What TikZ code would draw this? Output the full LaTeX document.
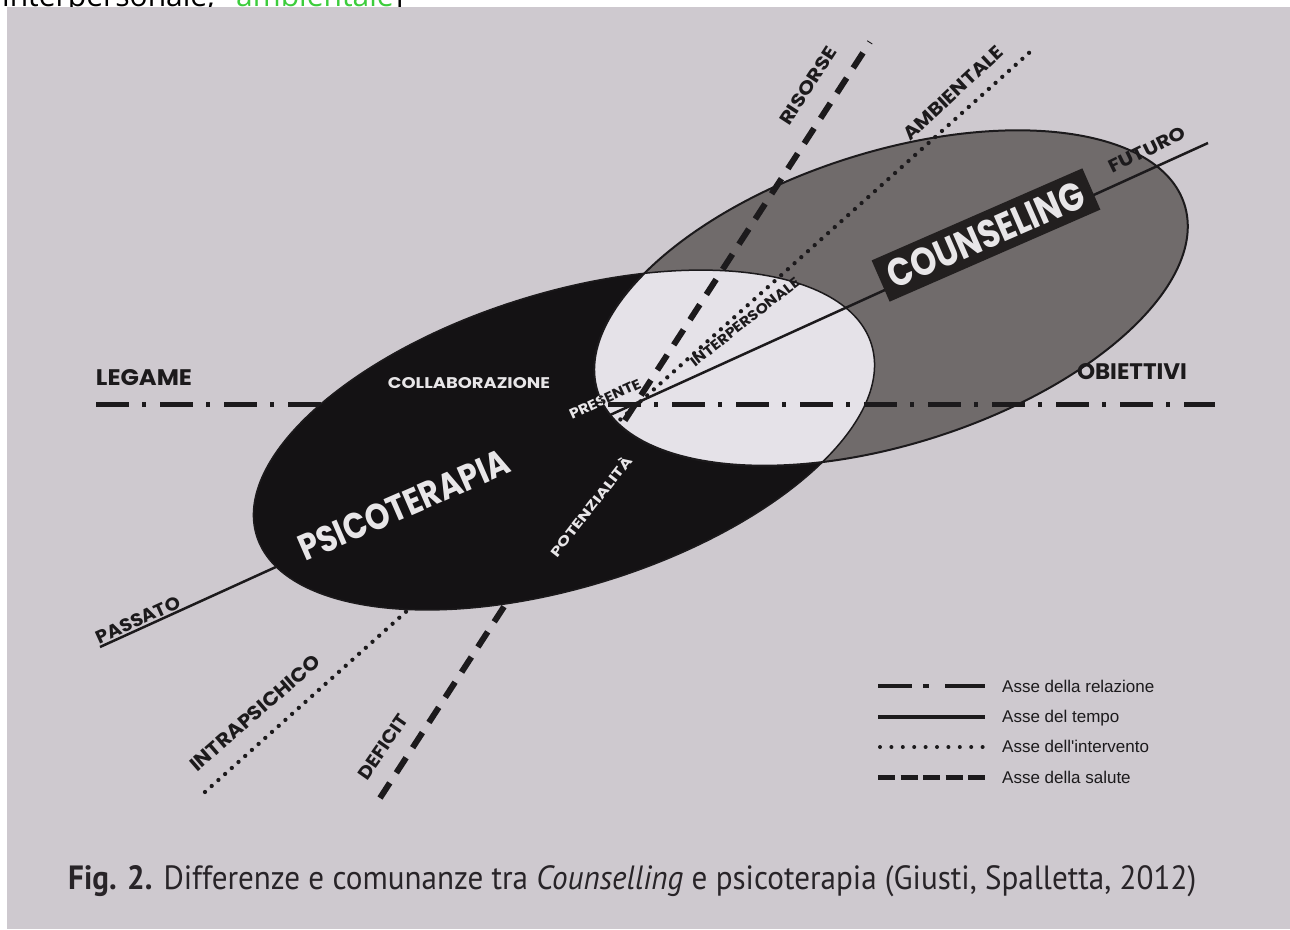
\documentclass[tikz,border=0pt]{standalone}
\usepackage{fontspec}
\usepackage{graphicx}
\newfontfamily\futfont{Poppins}
\newfontfamily\legfont{Liberation Sans}
\newfontfamily\capfont{PT Sans}
\newfontfamily\topfont{Open Sans}
\definecolor{page}{RGB}{206,201,207}
\definecolor{psicoc}{RGB}{20,18,20}
\definecolor{counsc}{RGB}{112,107,107}
\definecolor{interc}{RGB}{229,226,232}
\definecolor{ink}{RGB}{28,26,28}
\definecolor{wtext}{RGB}{232,230,232}
\definecolor{boxc}{RGB}{34,31,31}
\definecolor{capc}{RGB}{40,36,40}
\definecolor{topgreen}{RGB}{60,205,60}
\newcommand\lab[3]{\resizebox{#1pt}{#2pt}{\futfont\bfseries #3}}
\begin{document}
\begin{tikzpicture}[x=1pt,y=-1pt,
  lbl/.style={inner sep=0pt, outer sep=0pt, anchor=center, text=ink},
  wlbl/.style={lbl, text=wtext},
  relaxis/.style={draw=ink, line width=5pt, dash pattern=on 33pt off 13pt on 4pt off 14pt},
  timeaxis/.style={draw=ink, line width=2.5pt},
  intaxis/.style={draw=ink, line width=4.3pt, line cap=round, dash pattern=on 0pt off 9pt},
  healthaxis/.style={draw=ink, line width=6pt, dash pattern=on 18pt off 12pt},
  legtext/.style={inner sep=0pt, anchor=base west, text=ink, font=\legfont\fontsize{17}{20}\selectfont},
  toptext/.style={inner sep=0pt, anchor=base west, font=\topfont\fontsize{30}{34}\selectfont},
  psicorot/.style={rotate around={17.3:(564,440)}},
  counsrot/.style={rotate around={17.7:(891,298)}}
]
\useasboundingbox (0,0) rectangle (1290,929);
\fill[white] (0,0) rectangle (1290,929);

% top strip text, cut off by the page below it
\node[toptext, text=black] (topa) at (2,6) {interpersonale,};
\node[toptext, text=topgreen] (topb) at (236,6) {ambientale\textcolor{black}{]}};
\fill[page] (7,7) rectangle (1290,929);
\fill[white] (0,7) rectangle (7,929);

% ellipses
\fill[counsc, counsrot] (891,298) ellipse [x radius=308, y radius=146];
\begin{scope}
\clip[psicorot] (564,440) ellipse [x radius=322, y radius=147];
\fill[interc, counsrot] (891,298) ellipse [x radius=308, y radius=146];
\end{scope}

% axes
\coordinate (legA) at (96,404);
\coordinate (legB) at (1215,404);
\coordinate (pastEnd) at (100,647);
\coordinate (futEnd) at (1208,143);
\coordinate (intraEnd) at (205,792);
\coordinate (ambiEnd) at (1030,52);
\coordinate (defEnd) at (380,798);
\coordinate (risEnd) at (870,42);
\draw[relaxis] (legA) -- (legB);
\draw[timeaxis] (pastEnd) -- (futEnd);
\draw[intaxis] (intraEnd) -- (ambiEnd);
\draw[healthaxis] (defEnd) -- (risEnd);

% black part: psicoterapia outside counseling, over the axes
\begin{scope}
\clip[psicorot] (564,440) ellipse [x radius=322, y radius=147];
\fill[psicoc, even odd rule, counsrot] (891,298) ellipse [x radius=308, y radius=146] (891,298) circle [radius=2000];
\end{scope}
\draw[ink, line width=2pt, counsrot] (891,298) ellipse [x radius=308, y radius=146];
\draw[ink, line width=1.5pt, psicorot] (564,440) ellipse [x radius=322, y radius=147];

% counseling box
\node[fill=boxc, rotate=23.6, minimum width=230pt, minimum height=45pt, inner sep=0pt, text=wtext] (cbox) at (986,235) {\lab{211}{28}{COUNSELING}};

% labels
\node[lbl] (legame) at (144,378) {\lab{96}{16}{LEGAME}};
\node[lbl] (obiettivi) at (1132,372) {\lab{110}{16}{OBIETTIVI}};
\node[wlbl] (collab) at (469,383) {\lab{162}{11}{COLLABORAZIONE}};
\node[wlbl, rotate=23.5] (psico) at (404,505) {\lab{226}{26}{PSICOTERAPIA}};
\node[wlbl, rotate=52] (potenz) at (590,506) {\lab{123}{13}{POTENZIALITÀ}};
\node[wlbl, rotate=24.6] (presente) at (605,399) {\lab{77}{10}{PRESENTE}};
\begin{scope}
\clip[psicorot] (564,440) ellipse [x radius=322, y radius=147];
\clip[counsrot] (891,298) ellipse [x radius=308, y radius=146];
\node[lbl, rotate=24.6] (presenteB) at (605,399) {\lab{77}{10}{PRESENTE}};
\end{scope}
\node[lbl, rotate=38] (interp) at (745,322) {\lab{134}{10}{INTERPERSONALE}};
\node[lbl, rotate=24.5] (passato) at (138,620) {\lab{91}{13}{PASSATO}};
\node[lbl, rotate=41] (intrap) at (255,713) {\lab{165}{14}{INTRAPSICHICO}};
\node[lbl, rotate=55] (deficit) at (383,747) {\lab{74}{13}{DEFICIT}};
\node[lbl, rotate=57] (risorse) at (808,86) {\lab{89}{13}{RISORSE}};
\node[lbl, rotate=43] (ambient) at (953,93) {\lab{129}{13}{AMBIENTALE}};
\node[lbl, rotate=26] (futuro) at (1147,150) {\lab{83}{13}{FUTURO}};

% legend
\draw[ink, line width=4.5pt] (878,686) -- (912,686) (923,686) -- (929,686) (945,686) -- (985,686);
\draw[ink, line width=4pt] (878,717) -- (985,717);
\draw[ink, line width=4pt, line cap=round, dash pattern=on 0pt off 11.4pt] (880,747) -- (986,747);
\draw[ink, line width=5pt, dash pattern=on 17pt off 5.5pt] (878,777) -- (985,777);
\node[legtext] (l1) at (1002,692) {Asse della relazione};
\node[legtext] (l2) at (1002,722) {Asse del tempo};
\node[legtext] (l3) at (1002,752) {Asse dell'intervento};
\node[legtext] (l4) at (1002,783) {Asse della salute};

% caption
\node[inner sep=0pt, anchor=base west, text=capc] (caption) at (68,889) {\resizebox{1128pt}{24pt}{\capfont\fontsize{30}{34}\selectfont\textbf{Fig. 2.} Differenze e comunanze tra \textit{Counselling} e psicoterapia (Giusti, Spalletta, 2012)}};
\end{tikzpicture}
\end{document}
